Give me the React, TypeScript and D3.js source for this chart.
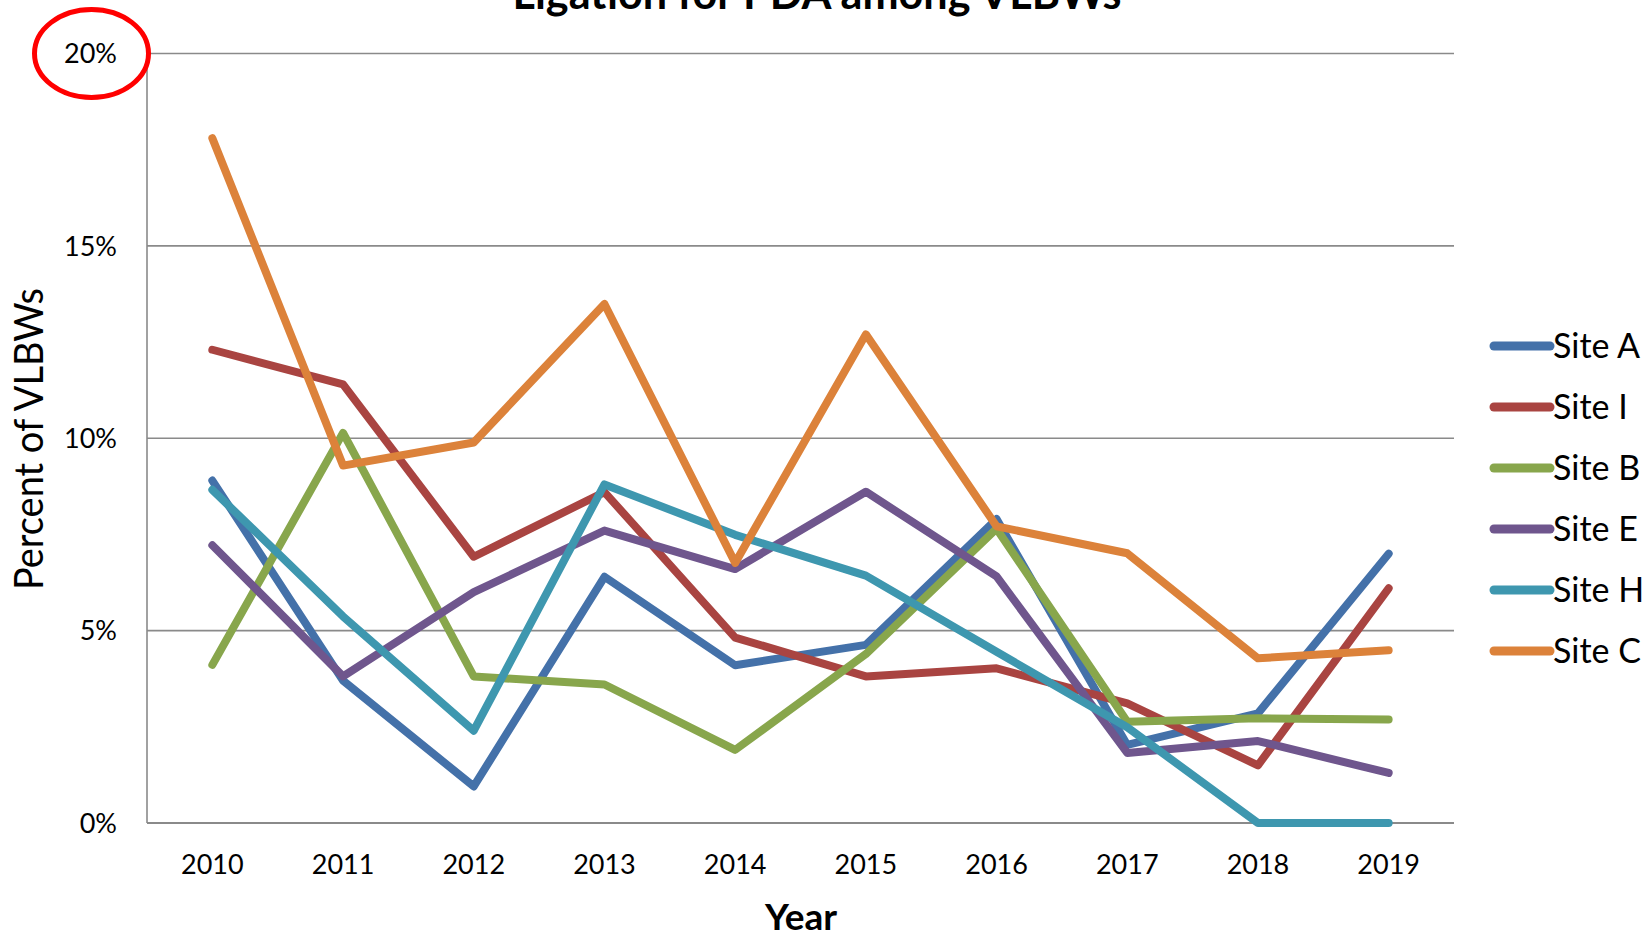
import React from "react";
import * as d3 from "d3";

const years = ["2010", "2011", "2012", "2013", "2014", "2015", "2016", "2017", "2018", "2019"];
const yTicks = [0, 5, 10, 15, 20];

const siteA = [8.9, 3.7, 0.95, 6.4, 4.1, 4.63, 7.9, 2.03, 2.85, 7.0];
const siteI = [12.3, 11.4, 6.92, 8.6, 4.82, 3.81, 4.02, 3.11, 1.5, 6.1];
const siteB = [4.11, 10.14, 3.81, 3.6, 1.9, 4.39, 7.65, 2.63, 2.72, 2.69];
const siteE = [7.22, 3.81, 6.0, 7.6, 6.6, 8.61, 6.41, 1.82, 2.13, 1.3];
const siteH = [8.66, 5.37, 2.4, 8.8, 7.49, 6.43, 4.45, 2.49, 0, 0];
const siteC = [17.8, 9.29, 9.89, 13.49, 6.76, 12.7, 7.71, 7.01, 4.28, 4.49];

const seriesNames = ["Site A", "Site I", "Site B", "Site E", "Site H", "Site C"];
const seriesValues = [siteA, siteI, siteB, siteE, siteH, siteC];
const seriesColors = ["#4471A9", "#A94441", "#88A64C", "#6F568D", "#3E97AF", "#DC823A"];

const W = 1644;
const H = 933;
const plot = { left: 147, right: 1454, top: 53.5, bottom: 823 };
const FONT = "Lato, 'Open Sans', 'DejaVu Sans', sans-serif";

export default function App() {
  const x = d3.scaleBand<string>().domain(years).range([plot.left, plot.right]);
  const y = d3.scaleLinear().domain([0, 20]).range([plot.bottom, plot.top]);
  const cx = (yr: string) => (x(yr) as number) + x.bandwidth() / 2;
  const line = d3
    .line<number>()
    .x((_, i) => cx(years[i]))
    .y((v) => y(v));

  const legendY0 = 346;
  const legendStep = 61;

  return (
    <svg
      width={W}
      height={H}
      style={{ position: "fixed", left: 0, top: 0, background: "#fff" }}
      fontFamily={FONT}
    >
      <rect x={0} y={0} width={W} height={H} fill="#fff" />
      {/* title */}
      <text
        x={817}
        y={9}
        textAnchor="middle"
        fontWeight="bold"
        fontSize={44}
        textLength={609}
        lengthAdjust="spacingAndGlyphs"
        fill="#000"
      >
        Ligation for PDA among VLBWs
      </text>

      {/* gridlines */}
      {yTicks.map((t) => (
        <line
          key={"g" + t}
          x1={plot.left}
          x2={plot.right}
          y1={y(t)}
          y2={y(t)}
          stroke="#8a8a8a"
          strokeWidth={t === 0 ? 2.2 : 1.6}
        />
      ))}
      {/* y axis line */}
      <line x1={plot.left} x2={plot.left} y1={plot.top} y2={plot.bottom} stroke="#8a8a8a" strokeWidth={1.6} />

      {/* y tick labels */}
      {yTicks.map((t) => (
        <text
          key={"yl" + t}
          x={117}
          y={y(t)}
          dy="0.36em"
          textAnchor="end"
          fontSize={27}
          fill="#000"
        >
          {t + "%"}
        </text>
      ))}

      {/* x tick labels */}
      {years.map((yr) => (
        <text key={"xl" + yr} x={cx(yr)} y={874} textAnchor="middle" fontSize={27} fill="#000">
          {yr}
        </text>
      ))}

      {/* axis titles */}
      <text
        transform={`translate(43, 439) rotate(-90)`}
        textAnchor="middle"
        fontSize={40}
        textLength={302}
        lengthAdjust="spacingAndGlyphs"
        fill="#000"
      >
        Percent of VLBWs
      </text>
      <text x={801} y={930} textAnchor="middle" fontWeight="bold" fontSize={37} fill="#000">
        Year
      </text>

      {/* series */}
      {seriesValues.map((vals, i) => (
        <path
          key={"s" + i}
          d={line(vals) || ""}
          fill="none"
          stroke={seriesColors[i]}
          strokeWidth={8}
          strokeLinejoin="round"
          strokeLinecap="round"
        />
      ))}

      {/* legend */}
      {seriesNames.map((name, i) => (
        <g key={"lg" + i} transform={`translate(0, ${legendY0 + i * legendStep})`}>
          <line x1={1494} x2={1550} y1={0} y2={0} stroke={seriesColors[i]} strokeWidth={9} strokeLinecap="round" />
          <text x={1553} y={0} dy="0.35em" fontSize={34} fill="#000">
            {name}
          </text>
        </g>
      ))}

      {/* red highlight ellipse */}
      <ellipse cx={91.5} cy={53.5} rx={57} ry={44} fill="none" stroke="#ff0000" strokeWidth={5} />
    </svg>
  );
}
